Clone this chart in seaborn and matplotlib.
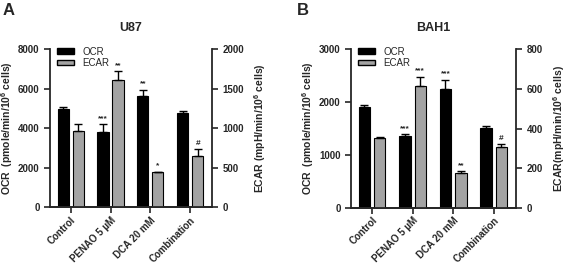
import numpy as np
import pandas as pd
import matplotlib
matplotlib.use("Agg")
import matplotlib.pyplot as plt
from matplotlib.patches import Patch
import seaborn as sns

# --- data (mean, upper SEM) ---
conditions = ["Control", "PENAO 5 \u00b5M", "DCA 20 mM", "Combination"]

u87_ocr = [4960, 3790, 5660, 4800]
u87_ocr_err = [140, 420, 300, 90]
u87_ecar = [970, 1612, 442, 654]
u87_ecar_err = [80, 112, 8, 82]
u87_ocr_marks = ["", "***", "**", ""]
u87_ecar_marks = ["", "**", "*", "#"]

bah1_ocr = [1900, 1368, 2258, 1509]
bah1_ocr_err = [55, 25, 170, 32]
bah1_ecar = [350, 615, 177, 307]
bah1_ecar_err = [6, 46, 8, 13]
bah1_ocr_marks = ["", "***", "***", ""]
bah1_ecar_marks = ["", "***", "**", "#"]

sns.set_style("ticks")
plt.rcParams["font.family"] = ["Liberation Sans", "DejaVu Sans"]
plt.rcParams["font.weight"] = "bold"
plt.rcParams["axes.labelweight"] = "bold"
plt.rcParams["mathtext.fontset"] = "custom"
plt.rcParams["mathtext.bf"] = "Liberation Sans:bold"
plt.rcParams["mathtext.rm"] = "Liberation Sans:bold"

GRAY = "#a3a3a3"
hue_order = ["OCR", "ECAR"]
palette = {"OCR": "black", "ECAR": GRAY}


def draw_series(ax, values, errs, name):
    df = pd.DataFrame({"cond": conditions, "val": values, "series": name})
    n_before = len(ax.patches)
    sns.barplot(data=df, x="cond", y="val", hue="series", hue_order=hue_order,
                palette=palette, order=conditions, dodge=True, width=0.76, gap=0.26,
                edgecolor="black", linewidth=0.8, legend=False, ax=ax)
    bars = [p for p in ax.patches[n_before:] if p.get_height() > 0]
    xs = [b.get_x() + b.get_width() / 2 for b in bars]
    ax.errorbar(xs, values, yerr=[np.zeros(len(errs)), errs], fmt="none",
                ecolor="black", elinewidth=1.0, capsize=3, capthick=1.0, zorder=3)
    return xs


def panel(ax, title, ocr, ocr_err, ocr_marks, ecar, ecar_err, ecar_marks,
          ylim_l, yticks_l, ylim_r, yticks_r, rlabel):
    ax2 = ax.twinx()
    xs_o = draw_series(ax, ocr, ocr_err, "OCR")
    xs_e = draw_series(ax2, ecar, ecar_err, "ECAR")
    ax.set_ylim(*ylim_l)
    ax.set_yticks(yticks_l)
    ax2.set_ylim(*ylim_r)
    ax2.set_yticks(yticks_r)
    off_l = (ylim_l[1] - ylim_l[0]) * 0.015
    off_r = (ylim_r[1] - ylim_r[0]) * 0.015
    for x, v, e, m in zip(xs_o, ocr, ocr_err, ocr_marks):
        if m:
            ax.text(x, v + e + off_l, m, ha="center", va="bottom", fontsize=6)
    for x, v, e, m in zip(xs_e, ecar, ecar_err, ecar_marks):
        if m:
            ax2.text(x, v + e + off_r, m, ha="center", va="bottom", fontsize=6)
    ax.set_xlim(-0.52, 3.55)
    ax.set_xticks(range(len(conditions)))
    ax.set_xticklabels(conditions, rotation=45, ha="right", rotation_mode="anchor",
                       fontsize=7, fontweight="bold")
    ax.set_xlabel("")
    ax2.set_xlabel("")
    ax.set_ylabel(r"OCR  (pmole/min/10$^{6}$ cells)", fontsize=7.5, labelpad=2)
    ax2.set_ylabel(rlabel, fontsize=7.5, labelpad=6)
    ax.set_title(title, fontsize=9, fontweight="bold", pad=13)
    for a in (ax, ax2):
        a.spines["top"].set_visible(False)
        for s in ("left", "right", "bottom"):
            a.spines[s].set_linewidth(1.3)
        a.tick_params(width=1.2, length=4, labelsize=7)
    ax.tick_params(axis="x", pad=1.5)
    ax2.spines["left"].set_visible(False)
    ax.spines["right"].set_visible(False)
    for lab in ax.get_yticklabels() + ax2.get_yticklabels():
        lab.set_fontweight("bold")
    handles = [Patch(facecolor="black", edgecolor="black", label="OCR"),
               Patch(facecolor=GRAY, edgecolor="black", label="ECAR")]
    leg = ax2.legend(handles=handles, loc="upper left", bbox_to_anchor=(0.0, 1.06),
                     frameon=False, fontsize=7, handlelength=1.8, handleheight=0.5,
                     handletextpad=0.8, labelspacing=0.12, borderaxespad=0.3)
    for t in leg.get_texts():
        t.set_fontweight("normal")
    return ax2


fig = plt.figure(figsize=(5.67, 2.64), dpi=100)
axA = fig.add_axes([0.0882, 0.215, 0.2857, 0.598])
axB = fig.add_axes([0.619, 0.213, 0.291, 0.600])

panel(axA, "U87", u87_ocr, u87_ocr_err, u87_ocr_marks,
      u87_ecar, u87_ecar_err, u87_ecar_marks,
      (0, 8000), [0, 2000, 4000, 6000, 8000], (0, 2000), [0, 500, 1000, 1500, 2000],
      r"ECAR (mpH/min/10$^{6}$ cells)")
panel(axB, "BAH1", bah1_ocr, bah1_ocr_err, bah1_ocr_marks,
      bah1_ecar, bah1_ecar_err, bah1_ecar_marks,
      (0, 3000), [0, 1000, 2000, 3000], (0, 800), [0, 200, 400, 600, 800],
      r"ECAR(mpH/min/10$^{6}$ cells)")

fig.text(0.004, 0.99, "A", fontsize=12, fontweight="bold", va="top", ha="left")
fig.text(0.523, 0.99, "B", fontsize=12, fontweight="bold", va="top", ha="left")

fig.savefig("out.png", dpi=100)
